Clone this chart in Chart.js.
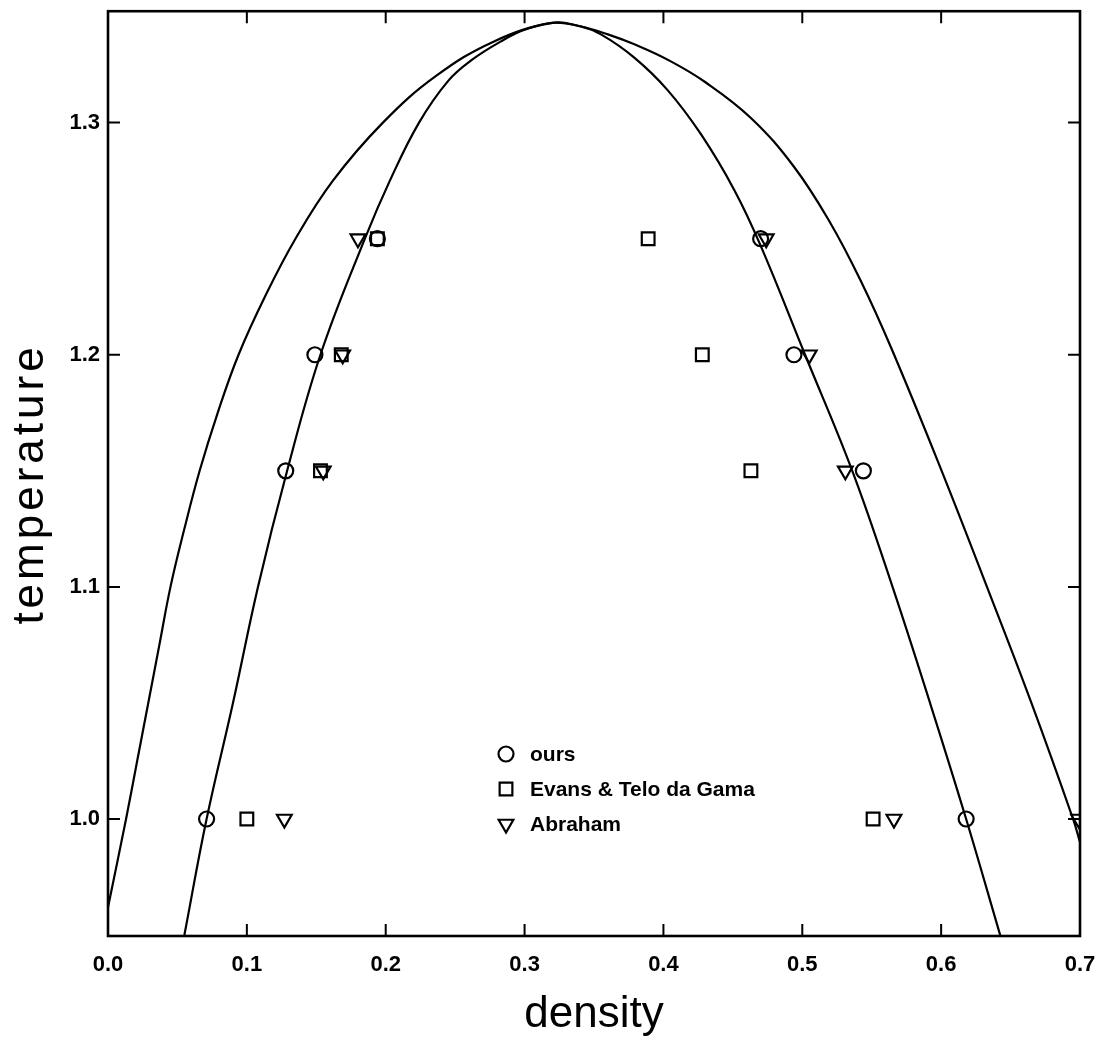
<!DOCTYPE html>
<html>
<head>
<meta charset="utf-8">
<script src="https://cdn.jsdelivr.net/npm/chart.js@4/dist/chart.umd.min.js"></script>
<style>
  html, body { margin: 0; padding: 0; background: #fff; }
  #cadre { width: 1106px; height: 1059px; }
</style>
</head>
<body>
<div id="cadre"><canvas id="graphe"></canvas></div>
<script>
// --- Courbes de coexistence (densité / température) ---
const courbeExtRho = [0.000, 0.013, 0.021, 0.029, 0.037, 0.045, 0.055, 0.066, 0.079, 0.094, 0.113, 0.135, 0.162, 0.198, 0.236, 0.278, 0.320, 0.340, 0.360, 0.380, 0.405, 0.430, 0.463, 0.494, 0.520, 0.542, 0.564, 0.599, 0.633, 0.665, 0.695, 0.700];
const courbeExtT   = [0.962, 1.000, 1.025, 1.050, 1.075, 1.100, 1.125, 1.150, 1.175, 1.200, 1.225, 1.250, 1.275, 1.300, 1.320, 1.335, 1.343, 1.3415, 1.338, 1.3335, 1.3265, 1.3175, 1.302, 1.281, 1.257, 1.232, 1.203, 1.152, 1.100, 1.050, 1.000, 0.990];

const courbeIntRho = [0.055, 0.071, 0.090, 0.108, 0.129, 0.153, 0.185, 0.203, 0.224, 0.245, 0.262, 0.283, 0.300, 0.320, 0.340, 0.355, 0.379, 0.403, 0.427, 0.451, 0.470, 0.502, 0.536, 0.565, 0.592, 0.618, 0.643];
const courbeIntT   = [0.950, 1.000, 1.050, 1.100, 1.150, 1.200, 1.250, 1.275, 1.300, 1.318, 1.327, 1.335, 1.340, 1.343, 1.3415, 1.338, 1.328, 1.314, 1.295, 1.271, 1.247, 1.200, 1.150, 1.100, 1.050, 1.000, 0.949];

// --- Points (ours / Evans & Telo da Gama / Abraham) ---
const oursRho   = [0.071, 0.618, 0.128, 0.544, 0.149, 0.494, 0.194, 0.470];
const oursT     = [1.00, 1.00, 1.15, 1.15, 1.20, 1.20, 1.25, 1.25];
const evansRho  = [0.100, 0.551, 0.153, 0.463, 0.168, 0.428, 0.194, 0.389];
const evansT    = [1.00, 1.00, 1.15, 1.15, 1.20, 1.20, 1.25, 1.25];
const abrahamRho = [0.127, 0.566, 0.699, 0.155, 0.531, 0.169, 0.505, 0.180, 0.474];
const abrahamT   = [1.00, 1.00, 1.00, 1.15, 1.15, 1.20, 1.20, 1.25, 1.25];

const ticksX = [0.0, 0.1, 0.2, 0.3, 0.4, 0.5, 0.6, 0.7];
const ticksY = [1.0, 1.1, 1.2, 1.3];

const points = (xs, ys) => xs.map((x, i) => ({ x, y: ys[i] }));

const police = 'Liberation Sans, Arial, sans-serif';

const courbe = (xs, ys) => ({
    data: points(xs, ys),
    showLine: true,
    borderColor: '#000',
    borderWidth: 2.2,
    pointRadius: 0,
    tension: 0.4,
});

const marqueurs = (label, xs, ys, style, rayon, rotation = 0) => ({
    label,
    data: points(xs, ys),
    showLine: false,
    pointStyle: style,
    pointRadius: rayon,
    pointRotation: rotation,
    pointBorderWidth: 2.2,
    borderColor: '#000',
    backgroundColor: 'rgba(255,255,255,0)',
});

// cadre + graduations tournées vers l'intérieur, sur les quatre côtés
const cadre = {
    id: 'cadre',
    afterDraw(chart) {
        const { ctx, chartArea: a, scales } = chart;
        const long = 12;
        ctx.save();
        ctx.strokeStyle = '#000';
        ctx.lineWidth = 2.6;
        ctx.strokeRect(a.left, a.top, a.right - a.left, a.bottom - a.top);
        ctx.lineWidth = 2;
        ctx.beginPath();
        ticksX.slice(1, -1).forEach((v) => {
            const px = scales.x.getPixelForValue(v);
            ctx.moveTo(px, a.bottom); ctx.lineTo(px, a.bottom - long);
            ctx.moveTo(px, a.top); ctx.lineTo(px, a.top + long);
        });
        ticksY.forEach((v) => {
            const py = scales.y.getPixelForValue(v);
            ctx.moveTo(a.left, py); ctx.lineTo(a.left + long, py);
            ctx.moveTo(a.right, py); ctx.lineTo(a.right - long, py);
        });
        ctx.stroke();
        ctx.restore();
    },
};

// titre vertical, un peu espacé
const titreY = {
    id: 'titreY',
    afterDraw(chart) {
        const { ctx } = chart;
        ctx.save();
        ctx.translate(31, 486);
        ctx.rotate(-Math.PI / 2);
        ctx.font = '44px ' + police;
        ctx.letterSpacing = '4px';
        ctx.fillStyle = '#000';
        ctx.textAlign = 'center';
        ctx.textBaseline = 'middle';
        ctx.fillText('temperature', 2, 0);
        ctx.restore();
    },
};

// légende dans le graphe, en bas au centre
const legende = {
    id: 'legende',
    afterDraw(chart) {
        const { ctx } = chart;
        const x0 = 506, y0 = 754, pas = 35;
        ctx.save();
        ctx.font = 'bold 21px ' + police;
        ctx.textBaseline = 'middle';
        let rang = 0;
        chart.data.datasets.forEach((ds) => {
            if (!ds.label) return;
            const y = y0 + rang * pas;
            ctx.strokeStyle = '#000';
            ctx.fillStyle = 'rgba(255,255,255,0)';
            ctx.lineWidth = 2.2;
            Chart.helpers.drawPoint(ctx, {
                pointStyle: ds.pointStyle,
                radius: ds.pointRadius,
                rotation: ds.pointRotation,
                borderWidth: 2.2,
            }, x0, y);
            ctx.fillStyle = '#000';
            ctx.fillText(ds.label, x0 + 24, y + 1);
            rang++;
        });
        ctx.restore();
    },
};

new Chart(document.getElementById('graphe'), {
    type: 'scatter',
    data: {
        datasets: [
            courbe(courbeExtRho, courbeExtT),
            courbe(courbeIntRho, courbeIntT),
            marqueurs('ours', oursRho, oursT, 'circle', 7.5),
            marqueurs('Evans & Telo da Gama', evansRho, evansT, 'rect', 9),
            marqueurs('Abraham', abrahamRho, abrahamT, 'triangle', 8.5, 180),
        ],
    },
    options: {
        responsive: true,
        maintainAspectRatio: false,
        animation: false,
        layout: { padding: { left: 0, top: 3, right: 26, bottom: 0 } },
        plugins: { legend: { display: false }, tooltip: { enabled: false } },
        scales: {
            x: {
                type: 'linear', min: 0, max: 0.7,
                afterFit: (s) => { s.height = 123; s.paddingLeft = 0; s.paddingRight = 0; },
                afterBuildTicks: (s) => { s.ticks = ticksX.map((value) => ({ value })); },
                grid: { display: false, drawTicks: false },
                border: { display: false },
                ticks: {
                    color: '#000', padding: 16,
                    font: { family: police, size: 22, weight: 'bold' },
                    callback: (v) => Number(v).toFixed(1),
                },
                title: {
                    display: true, text: 'density', color: '#000',
                    font: { family: police, size: 44 },
                    padding: { top: 0, bottom: 18 },
                },
            },
            y: {
                type: 'linear', min: 0.9496, max: 1.348,
                afterFit: (s) => { s.width = 108; s.paddingTop = 0; s.paddingBottom = 0; },
                afterBuildTicks: (s) => { s.ticks = ticksY.map((value) => ({ value })); },
                grid: { display: false, drawTicks: false },
                border: { display: false },
                ticks: {
                    color: '#000', padding: 8,
                    font: { family: police, size: 22, weight: 'bold' },
                    callback: (v) => Number(v).toFixed(1),
                },
                title: { display: false },
            },
        },
    },
    plugins: [cadre, titreY, legende],
});
</script>
</body>
</html>
